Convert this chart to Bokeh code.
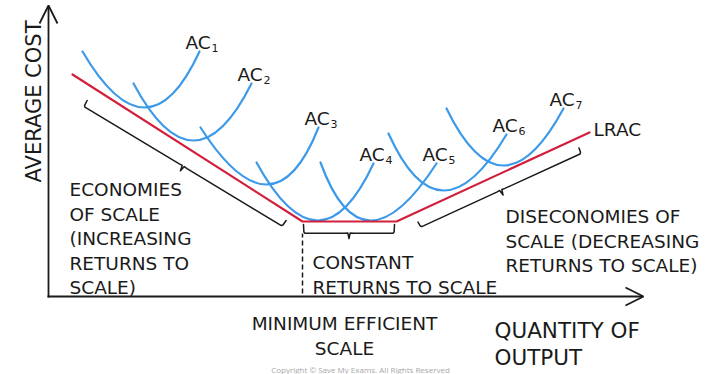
import numpy as np
from bokeh.plotting import figure
from bokeh.models import Range1d, Arrow, OpenHead
from bokeh.core.properties import value
from bokeh.embed import file_html
from bokeh.resources import INLINE

# ---- data: quantity (x) and average cost (y), measured from the axes origin ----
ac_subscripts = ["1", "2", "3", "4", "5", "6", "7"]
ac_left_q = [34, 85, 152, 208, 272, 340, 398]
ac_left_c = [245, 213, 169, 134, 134, 163, 188]
ac_min_q = [96, 145, 218, 269, 322, 395, 455]
ac_min_c = [189, 156, 112, 76, 76, 106, 131]
ac_right_q = [151, 203, 270, 325, 388, 458, 515]
ac_right_c = [245, 213, 169, 133, 133, 162, 188]

lrac_q = [24, 254, 348, 541]
lrac_c = [222, 75, 75, 164]

BLUE = "#3d9ae8"
RED = "#d21f3c"
INK = "#1a1a1a"
FONT = value("DejaVu Sans")

p = figure(width=716, height=374, output_backend="svg", toolbar_location=None,
           x_range=Range1d(-48, 668), y_range=Range1d(-78, 296),
           x_axis_location=None, y_axis_location=None,
           min_border=0, min_border_left=0, min_border_right=0,
           min_border_top=0, min_border_bottom=0,
           outline_line_color=None, background_fill_color="white",
           border_fill_color="white")
p.grid.visible = False

# ---- short-run AC curves (quadratic Bezier through left end, minimum, right end) ----
lq = np.array(ac_left_q, float); lc = np.array(ac_left_c, float)
mq = np.array(ac_min_q, float); mc = np.array(ac_min_c, float)
rq = np.array(ac_right_q, float); rc = np.array(ac_right_c, float)
cq = 2 * mq - (lq + rq) / 2
cc = 2 * mc - (lc + rc) / 2
p.quadratic(x0=lq, y0=lc, x1=rq, y1=rc, cx=cq, cy=cc,
            line_color=BLUE, line_width=2.2, line_cap="round")

# ---- LRAC ----
p.line(lrac_q, lrac_c, line_color=RED, line_width=2.2, line_join="round", line_cap="round")

# ---- axes ----
p.add_layout(Arrow(end=OpenHead(size=18, line_width=1.8, line_color=INK),
                   x_start=0, y_start=-1, x_end=0, y_end=291,
                   line_width=1.8, line_color=INK))
p.add_layout(Arrow(end=OpenHead(size=18, line_width=1.8, line_color=INK),
                   x_start=-1, y_start=0, x_end=595, y_end=0,
                   line_width=1.8, line_color=INK))

# ---- labels of AC curves ----
lab_x = [q - 14 for q in ac_right_q]
lab_y = [c + 9 for c in ac_right_c]
p.text(x=lab_x, y=lab_y, text=["AC"] * len(lab_x), text_font=FONT,
       text_font_size="18.5px", text_color=INK, text_align="left",
       text_baseline="alphabetic")
p.text(x=[x + 26 for x in lab_x], y=[y - 5 for y in lab_y], text=ac_subscripts,
       text_font=FONT, text_font_size="11px", text_color=INK,
       text_align="left", text_baseline="alphabetic")
p.text(x=[lrac_q[-1] + 4], y=[lrac_c[-1] + 3], text=["LRAC"], text_font=FONT,
       text_font_size="18.5px", text_color=INK, text_align="left",
       text_baseline="alphabetic")

# ---- braces (hooks point toward the LRAC segment, cusp points away) ----
def brace(p0, p1, hook=7.0, depth=5.0):
    p0 = np.array(p0, float); p1 = np.array(p1, float)
    d = p1 - p0
    u = d / np.hypot(*d)
    n = np.array([-u[1], u[0]])  # left normal (toward the braced line)
    m = (p0 + p1) / 2
    pts = [p0 + n * hook, p0 + n * 1.5 + u * 0.4, p0 + u * 1.5 + n * 0.2,
           m - u * 4.5 + n * 0.3, m - u * 1.2 + n * 0.6, m - n * depth,
           m + u * 1.2 + n * 0.6, m + u * 4.5 + n * 0.3,
           p1 - u * 1.5 + n * 0.2, p1 + n * 1.5 - u * 0.4, p1 + n * hook]
    pts = np.array(pts)
    return pts[:, 0], pts[:, 1]

for a, b, h in [((35, 190), (234, 70), 7.0),
                ((255, 63), (346, 63), 9.0),
                ((372, 69), (533, 143), 6.0)]:
    bx, by = brace(a, b, h)
    p.line(bx, by, line_color=INK, line_width=1.5, line_join="round", line_cap="round")

# dashed line at minimum efficient scale
p.line([lrac_q[1], lrac_q[1]], [3, lrac_c[1] - 12], line_color=INK, line_width=1.5,
       line_dash="5 3")

# ---- text blocks ----
def block(lines, x, y0, step, size="18.5px", align="left"):
    p.text(x=[x] * len(lines), y=[y0 - i * step for i in range(len(lines))],
           text=lines, text_font=FONT, text_font_size=size, text_color=INK,
           text_align=align, text_baseline="alphabetic")

block(["ECONOMIES", "OF SCALE", "(INCREASING", "RETURNS TO", "SCALE)"], 21, 107, 24.6)
block(["CONSTANT", "RETURNS TO SCALE"], 264, 34.5, 25)
block(["DISECONOMIES OF", "SCALE (DECREASING", "RETURNS TO SCALE)"], 457, 80, 24.6)
block(["MINIMUM EFFICIENT", "SCALE"], 296, -27, 25, align="center")
block(["QUANTITY OF", "OUTPUT"], 446, -33.5, 27, size="21.5px")

p.text(x=[-15], y=[114], text=["AVERAGE  COST"], angle=np.pi / 2, text_font=FONT,
       text_font_size="21px", text_color=INK, text_align="left",
       text_baseline="alphabetic")

p.text(x=[312], y=[-73], text=["Copyright © Save My Exams. All Rights Reserved"],
       text_font=value("Open Sans"), text_font_size="8px", text_color="#a8a8a8",
       text_align="center", text_baseline="alphabetic")

open("out.html", "w").write(file_html(p, INLINE))
